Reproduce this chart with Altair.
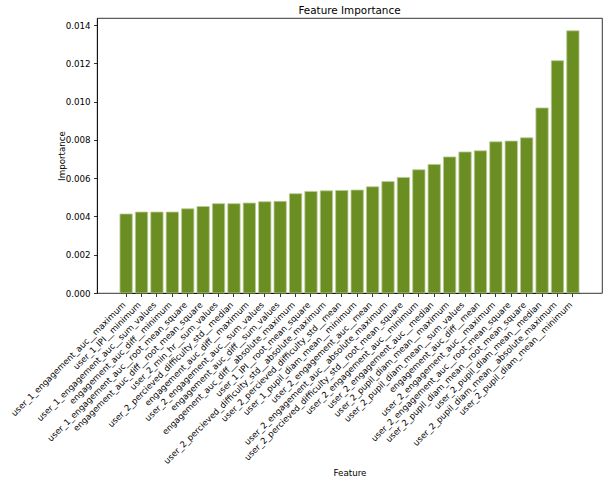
import altair as alt
import pandas as pd

# Feature names, ordered by ascending importance
features = [
    "user_1_engagement_auc__maximum",
    "user_1_IPI__minimum",
    "user_1_engagement_auc__sum_values",
    "engagement_auc_diff__minimum",
    "user_1_engagement_auc__root_mean_square",
    "engagement_auc_diff__root_mean_square",
    "user_2_min_hr__sum_values",
    "user_2_percieved_difficulty_std__median",
    "engagement_auc_diff__maximum",
    "user_2_engagement_auc__sum_values",
    "engagement_auc_diff__sum_values",
    "engagement_auc_diff__absolute_maximum",
    "user_1_IPI__root_mean_square",
    "user_2_percieved_difficulty_std__absolute_maximum",
    "user_2_percieved_difficulty_std__mean",
    "user_1_pupil_diam_mean__minimum",
    "user_2_engagement_auc__mean",
    "user_2_engagement_auc__absolute_maximum",
    "user_2_percieved_difficulty_std__root_mean_square",
    "user_2_engagement_auc__minimum",
    "user_2_engagement_auc__median",
    "user_2_pupil_diam_mean__maximum",
    "user_2_pupil_diam_mean__sum_values",
    "engagement_auc_diff__mean",
    "user_2_engagement_auc__maximum",
    "user_2_engagement_auc__root_mean_square",
    "user_2_pupil_diam_mean__root_mean_square",
    "user_2_pupil_diam_mean__median",
    "user_2_pupil_diam_mean__absolute_maximum",
    "user_2_pupil_diam_mean__minimum",
]

importances = [
    0.00413, 0.00423, 0.00423, 0.00423, 0.00440, 0.00452, 0.00467, 0.00467,
    0.00470, 0.00477, 0.00479, 0.00519, 0.00531, 0.00534, 0.00536, 0.00538,
    0.00555, 0.00582, 0.00604, 0.00644, 0.00672, 0.00711, 0.00737, 0.00743,
    0.00790, 0.00794, 0.00811, 0.00967, 0.01214, 0.01370,
]

y_ticks = [0.0, 0.002, 0.004, 0.006, 0.008, 0.010, 0.012, 0.014]

df = pd.DataFrame({"Feature": features, "Importance": importances})

FONT = "DejaVu Sans"

PLOT_W = 505
PLOT_H = 275
# band step for 30 bars with 0.8-wide bars and a margin of 1.49 steps at each end
STEP = PLOT_W / 32.78
X_RANGE = [1.49 * STEP, PLOT_W - 1.49 * STEP]

bars = (
    alt.Chart(df)
    .mark_bar(color="#6b8e23", stroke="#b9cc94", strokeWidth=0.8)
    .encode(
        x=alt.X(
            "Feature:N",
            sort=features,
            scale=alt.Scale(paddingInner=0.2, paddingOuter=0, range=X_RANGE),
            axis=alt.Axis(
                title="Feature",
                labelAngle=-45,
                labelAlign="right",
                labelBaseline="top",
                labelPadding=3.5,
                labelOffset=-5,
                labelFontSize=8.5,
                labelColor="#000000",
                labelLimit=0,
                labelOverlap=False,
                tickSize=3.5,
                tickColor="#000000",
                domainColor="#000000",
                titleFontSize=8.7,
                titleFontWeight="normal",
                titleColor="#000000",
                titleY=182,
                titleBaseline="alphabetic",
            ),
        ),
        y=alt.Y(
            "Importance:Q",
            scale=alt.Scale(domain=[0, 0.01437], nice=False, zero=True),
            axis=alt.Axis(
                title="Importance",
                values=y_ticks,
                format=".3f",
                labelFontSize=8.7,
                labelColor="#000000",
                labelPadding=3.5,
                tickSize=3.5,
                tickColor="#000000",
                domainColor="#000000",
                grid=False,
                titleFontSize=8.7,
                titleFontWeight="normal",
                titleColor="#000000",
                titleX=-36,
                titleY=137.5,
                titleAlign="center",
                titleBaseline="middle",
                titleAngle=-90,
            ),
        ),
    )
)

chart = (
    bars.properties(
        width=PLOT_W,
        height=PLOT_H,
        title=alt.TitleParams(
            "Feature Importance",
            fontSize=10.4,
            fontWeight="normal",
            color="#000000",
            font=FONT,
            offset=2,
        ),
        autosize=alt.AutoSizeParams(type="none"),
        padding={"left": 97, "top": 18, "right": 9, "bottom": 190},
    )
    .configure(font=FONT)
    .configure_view(stroke="#000000", strokeWidth=0.8)
    .configure_axis(labelFont=FONT, titleFont=FONT, domainWidth=0.8, tickWidth=0.8)
)

chart.save("out.html", embed_options={"renderer": "svg", "actions": False})
